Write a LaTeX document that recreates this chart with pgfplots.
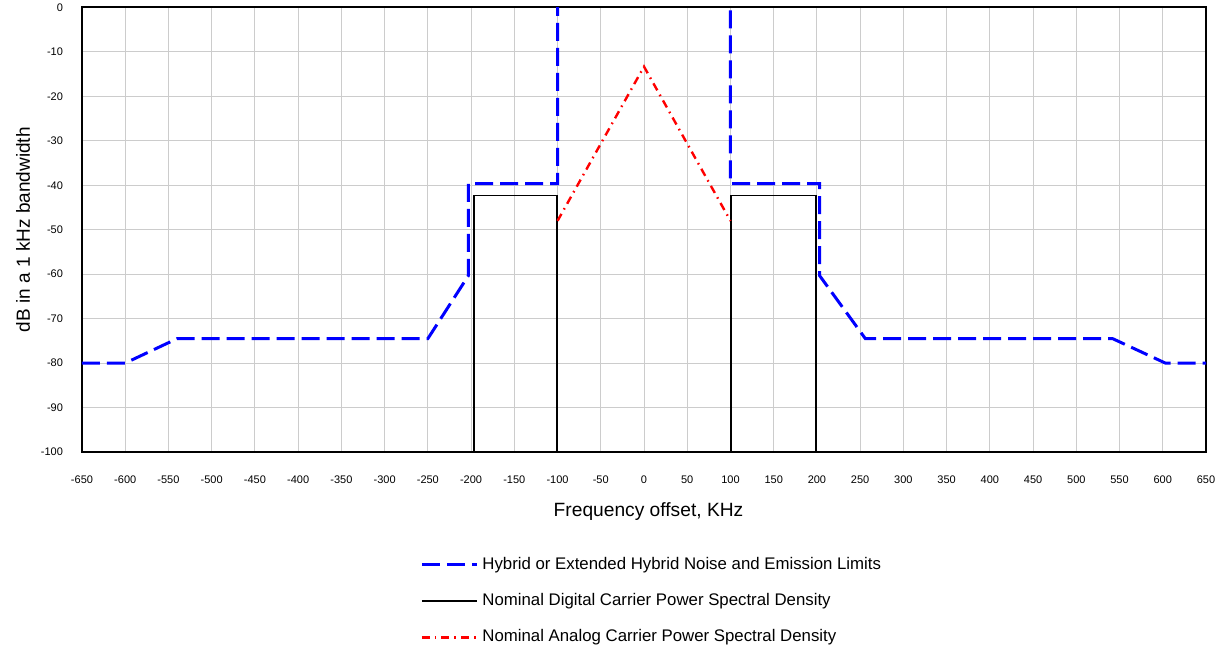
\documentclass[border=0pt]{standalone}
\usepackage{fontspec}
\setmainfont{Liberation Sans}
\usepackage{pgfplots}
\pgfplotsset{compat=1.18}
\definecolor{limblue}{RGB}{0,0,255}
\definecolor{anared}{RGB}{255,0,0}
\begin{document}
\begin{tikzpicture}
\begin{axis}[
  scale only axis, width=562pt, height=222.25pt,
  xmin=-650, xmax=650, ymin=-100, ymax=0,
  xtick={-650,-600,...,650}, ytick={-100,-90,...,0},
  grid=major, major grid style={draw=black!20, line width=0.5pt},
  axis line style={line width=1pt},
  major tick length=0pt,
  tick label style={font=\fontsize{5.5}{6}\selectfont},
  /pgf/number format/assume math mode=true,
  xticklabel style={anchor=center, yshift=-14pt},
  yticklabel style={xshift=-6pt},
  unbounded coords=jump,
  xlabel={Frequency offset, KHz},
  ylabel={dB in a 1 kHz bandwidth},
  every axis x label/.style={at={(axis description cs:0.504,0)}, anchor=center, yshift=-30pt, font=\fontsize{9.6}{11}\selectfont},
  every axis y label/.style={at={(axis description cs:0,0.5)}, xshift=-29.5pt, rotate=90, anchor=center, font=\fontsize{9.5}{11}\selectfont},
  legend style={at={(axis description cs:0.3007,0)}, anchor=north west, yshift=-50.5pt,
    draw=none, fill=none, inner sep=0pt, row sep=6.5pt,
    font=\fontsize{8.4}{10}\selectfont},
  legend cell align=left,
  legend image code/.code={\draw[#1] (0pt,0pt) -- (27.5pt,0pt);},
]
\addplot[limblue, line width=1.5pt, dash pattern=on 9pt off 3.5pt] coordinates {
  (-650,-80) (-600,-80) (-540,-74.5) (-250,-74.5) (-203,-60.3) (-203,-39.6) (-100,-39.6) (-100,5)
  (0,nan)
  (100,5) (100,-39.6) (203,-39.6) (203,-60.3) (256,-74.5) (542,-74.5) (603,-80) (650,-80)
};
\addlegendentry{Hybrid or Extended Hybrid Noise and Emission Limits}
\addplot[black, line width=0.9pt] coordinates {
  (-197,-100) (-197,-42.3) (-101,-42.3) (-101,-100)
  (0,nan)
  (101,-100) (101,-42.3) (199,-42.3) (199,-100)
};
\addlegendentry{Nominal Digital Carrier Power Spectral Density}
\addplot[anared, line width=1.2pt, dash pattern=on 4pt off 2.5pt on 0.8pt off 2.5pt] coordinates {
  (-100,-48) (0,-13.3) (100,-48)
};
\addlegendentry{Nominal Analog Carrier Power Spectral Density}
\end{axis}
\pgfresetboundingbox
\path[use as bounding box] ([shift={(-41pt,-96.5pt)}]current axis.south west) rectangle ([shift={(7.5pt,3.75pt)}]current axis.north east);
\end{tikzpicture}
\end{document}
